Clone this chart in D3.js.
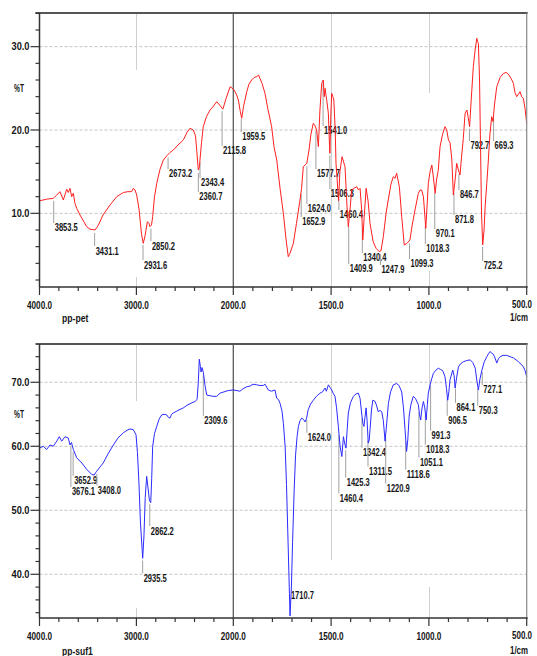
<!DOCTYPE html>
<html><head><meta charset="utf-8">
<script src="https://cdn.jsdelivr.net/npm/d3@7"></script>
<style>body{margin:0;background:#fff}</style>
</head><body><svg id="c" width="537" height="656"></svg>
<script>
// ---------- DATA ----------
const xTickValues = [4000, 3000, 2000, 1500, 1000, 500];
const petYTicks = [10, 20, 30];
const sufYTicks = [40, 50, 60, 70];

// [wavenumber (1/cm), %T]
const petSpectrum = [[4000,11.5],[3926,11.7],[3858,11.8],[3822,12.2],[3788,12.6],[3754,11.6],[3719,12.9],[3703,12.5],[3685,13.0],[3668,12.0],
[3651,12.4],[3634,11.2],[3616,10.6],[3582,9.8],[3513,8.4],[3479,8.1],[3427,8.0],[3396,8.5],[3345,9.8],[3272,11.0],
[3203,12.0],[3135,12.5],[3087,12.6],[3049,12.6],[3032,13.0],[3014,12.8],[2997,12.2],[2973,10.5],[2947,7.5],[2929,6.4],
[2911,7.3],[2887,9.0],[2870,8.8],[2860,8.4],[2844,8.6],[2832,9.6],[2813,12.0],[2790,13.6],[2756,15.3],[2722,16.4],
[2687,16.9],[2653,17.3],[2619,17.6],[2571,18.2],[2516,18.8],[2478,19.7],[2447,20.2],[2413,20.0],[2390,19.3],[2377,17.5],
[2361,15.2],[2349,15.6],[2344,16.4],[2328,18.5],[2310,20.4],[2277,21.6],[2240,22.4],[2209,22.8],[2171,23.4],[2142,23.0],
[2108,22.5],[2074,23.8],[2033,25.2],[1999,24.9],[1991,24.6],[1983,24.2],[1974,23.6],[1964,22.2],[1957,21.4],[1948,22.8],
[1931,24.6],[1920,25.5],[1906,26.0],[1894,26.3],[1880,26.4],[1871,26.6],[1864,26.2],[1853,25.6],[1838,24.4],[1823,22.5],
[1804,20.4],[1792,18.0],[1778,16.4],[1761,13.0],[1744,10.0],[1730,6.8],[1719,4.8],[1710,5.2],[1693,6.4],[1677,8.8],
[1659,11.6],[1651,13.0],[1642,15.6],[1633,15.8],[1624,16.0],[1613,17.6],[1603,19.5],[1591,20.8],[1582,20.5],[1574,20.0],
[1565,18.0],[1557,22.4],[1548,25.6],[1540,26.0],[1535,24.0],[1531,25.0],[1522,23.5],[1514,22.0],[1508,18.0],[1506,17.2],
[1501,22.0],[1497,24.4],[1491,24.0],[1486,23.6],[1479,20.0],[1475,16.0],[1470,14.4],[1462,11.5],[1455,15.0],[1444,16.8],
[1429,15.6],[1419,11.0],[1412,8.4],[1403,10.5],[1395,12.8],[1383,13.0],[1369,13.2],[1360,12.8],[1352,13.0],[1344,10.5],
[1338,6.8],[1331,9.5],[1321,13.0],[1311,11.5],[1301,8.8],[1285,6.6],[1270,5.8],[1254,5.4],[1245,5.5],[1233,7.2],
[1219,10.0],[1208,11.6],[1194,13.5],[1182,14.4],[1173,14.2],[1165,14.8],[1158,14.0],[1151,13.2],[1139,9.6],[1126,6.2],
[1112,6.4],[1097,6.8],[1086,8.5],[1071,10.4],[1054,12.4],[1045,12.8],[1037,12.8],[1028,12.0],[1016,8.2],[1009,11.0],
[1003,13.6],[994,15.0],[985,15.8],[978,14.5],[968,12.4],[961,14.0],[952,15.2],[943,18.0],[930,19.5],[918,20.4],
[909,20.0],[900,18.8],[892,18.5],[883,16.5],[875,12.2],[866,14.0],[858,16.0],[849,15.2],[841,14.6],[834,16.5],
[824,19.0],[815,22.0],[806,22.4],[799,21.5],[792,20.4],[784,23.5],[773,27.6],[764,29.5],[755,31.0],[751,30.6],
[747,30.4],[741,26.0],[736,18.0],[731,10.0],[725,6.2],[718,8.0],[712,11.0],[704,13.6],[696,16.4],[688,19.5],
[679,21.6],[672,21.0],[665,23.0],[653,25.2],[636,26.3],[619,26.8],[605,26.9],[594,26.7],[580,26.2],[568,25.6],
[560,24.5],[551,24.0],[542,24.3],[534,24.6],[526,24.0],[517,23.8],[508,22.5],[500,20.8]];

const sufSpectrum = [[4000,59.7],[3961,60.0],[3926,59.5],[3892,60.2],[3858,60.0],[3822,60.8],[3796,61.5],[3771,60.8],[3737,61.5],[3703,61.3],
[3685,60.2],[3670,60.6],[3651,59.5],[3616,58.2],[3564,57.4],[3513,56.4],[3461,55.6],[3437,55.5],[3410,56.1],[3342,57.4],
[3293,58.8],[3238,60.2],[3190,61.3],[3135,62.1],[3097,62.5],[3066,62.7],[3032,62.6],[3004,61.8],[2989,59.0],[2973,54.0],
[2958,48.0],[2935,42.5],[2922,46.0],[2909,52.0],[2894,55.3],[2880,53.5],[2865,51.5],[2852,51.2],[2842,55.0],[2832,60.0],
[2813,62.0],[2790,63.1],[2767,64.2],[2739,64.9],[2715,65.0],[2687,64.9],[2669,64.5],[2653,64.4],[2638,65.0],[2619,65.2],
[2571,65.6],[2516,66.0],[2468,66.5],[2426,66.8],[2395,67.0],[2374,67.3],[2361,70.0],[2351,73.6],[2340,72.5],[2333,71.6],
[2323,72.3],[2309,71.5],[2292,69.5],[2274,68.0],[2240,67.9],[2209,67.8],[2171,67.8],[2137,68.3],[2096,68.5],[2054,68.7],
[2000,68.8],[1981,68.7],[1966,68.6],[1950,69.0],[1931,69.3],[1915,69.4],[1899,69.7],[1880,69.6],[1864,69.5],[1847,69.5],
[1838,69.7],[1821,68.8],[1804,68.6],[1787,68.8],[1778,67.5],[1769,67.3],[1761,66.7],[1751,65.5],[1744,63.6],[1735,60.0],
[1728,54.0],[1720,45.0],[1713,37.0],[1710,33.5],[1703,38.0],[1697,45.0],[1689,53.0],[1682,58.5],[1674,61.5],[1667,63.1],
[1659,64.0],[1650,64.4],[1641,64.2],[1633,63.8],[1626,64.3],[1617,65.7],[1605,66.6],[1591,67.2],[1575,67.8],[1557,68.3],
[1544,68.5],[1531,69.1],[1524,68.6],[1514,69.6],[1506,69.2],[1497,68.8],[1488,68.2],[1480,67.8],[1472,66.0],[1463,63.1],
[1454,60.0],[1445,58.4],[1437,61.5],[1431,60.5],[1424,59.7],[1418,62.5],[1412,65.2],[1401,66.8],[1386,67.8],[1372,68.2],
[1361,68.3],[1352,67.5],[1344,65.2],[1337,63.5],[1332,63.1],[1327,64.5],[1321,66.0],[1316,64.0],[1310,60.5],[1305,61.0],
[1301,62.6],[1294,65.5],[1287,67.2],[1275,67.0],[1267,66.3],[1259,65.4],[1250,65.6],[1241,65.4],[1233,64.0],[1224,60.8],
[1216,63.5],[1207,66.7],[1196,68.5],[1182,69.6],[1165,69.8],[1153,69.5],[1139,68.5],[1130,66.0],[1122,62.6],[1114,59.2],
[1108,61.0],[1101,64.7],[1092,66.5],[1080,67.8],[1069,67.5],[1054,66.5],[1048,65.0],[1042,64.1],[1035,66.0],[1028,67.0],
[1021,66.0],[1014,64.1],[1008,66.5],[1003,68.3],[991,70.0],[977,71.4],[964,71.9],[952,72.2],[940,72.0],[929,71.8],
[923,71.3],[918,70.9],[910,69.0],[904,67.2],[898,68.5],[892,70.4],[878,71.9],[871,71.0],[866,69.1],[858,70.8],
[849,72.4],[838,72.9],[824,73.2],[806,73.4],[789,73.5],[776,73.1],[763,72.2],[756,70.5],[747,68.8],[739,70.5],
[729,71.9],[717,73.2],[704,74.0],[694,74.5],[688,74.8],[680,74.6],[671,74.4],[662,73.8],[653,73.0],[644,73.7],
[636,74.0],[621,74.2],[602,74.2],[585,74.0],[568,73.8],[554,73.5],[542,73.2],[528,72.8],[517,72.4],[508,71.8],[500,70.9]];

// [peak wavenumber, %T at which its label sits]
const petPeaks = [[3853.5,8.24],[3431.1,5.47],[2931.6,3.79],[2850.2,6.07],[2673.2,14.72],[2343.4,13.64],[2360.7,11.96],
[2115.8,17.48],[1959.5,19.16],[1541.0,19.88],[1577.7,14.72],[1506.3,12.32],[1624.0,10.52],[1652.9,8.96],[1460.4,9.80],
[1409.9,3.32],[1340.4,4.64],[1247.9,3.20],[1099.3,3.92],[1018.3,5.72],[970.1,7.52],[871.8,9.20],[846.7,12.20],
[792.7,18.08],[725.2,3.68],[669.3,18.08]];
const sufPeaks = [[3652.9,54.6],[3676.1,52.85],[3408.0,53.10],[2862.2,46.72],[2935.5,39.41],[2309.6,63.98],[1710.7,36.61],
[1624.0,61.35],[1460.4,51.86],[1425.3,54.34],[1342.4,59.0],[1311.5,56.04],[1220.9,53.4],[1118.6,55.58],[1051.1,57.45],
[1018.3,59.47],[991.3,61.65],[906.5,63.98],[864.1,66.0],[750.3,65.54],[727.1,68.8]];

// ---------- DRAWING ----------
const svg = d3.select("#c");
const X0 = 39.5, X1 = 526.7;
const x = d3.scaleLinear().domain([4000, 2000, 500]).range([X0, 233.3, X1]);
const fmt = d3.format(".1f");

// condensed bold text: drawn at natural size, then squeezed horizontally to the target width
function txt(g, px, py, s, anchor, w) {
  const t = g.append("text").attr("x", 0).attr("y", 0)
    .attr("text-anchor", anchor || "start")
    .attr("dominant-baseline", "central")
    .attr("font-family", "'Liberation Sans', Arial, sans-serif")
    .attr("font-weight", "bold").attr("font-size", 10.5)
    .attr("fill", "#151515").text(s);
  const L = w || [...s].reduce((a, c) => a + (c === "." ? 2.1 : 4.2), 0);
  const nat = t.node().getComputedTextLength() || L;
  t.attr("transform", `translate(${px},${py}) scale(${(L / nat).toFixed(4)},1)`);
  return t;
}

const panels = [
  {spec: petSpectrum, peaks: petPeaks, yTicks: petYTicks, dom: [1.16, 34.04], top: 13, bottom: 287, titleT: 25.0,
   color: "#ff1f1f", name: "pp-pet", g3000: [57, 10], g1500: null, g1000: [80, 16], nameDy: 31},
  {spec: sufSpectrum, peaks: sufPeaks, yTicks: sufYTicks, dom: [33.17, 75.98], top: 344, bottom: 618, titleT: 64.9,
   color: "#2b2bff", name: "pp-suf1", g3000: [57, 10], g1500: 216, g1000: [46, 31], nameDy: 33}
];

panels.forEach(p => {
  const g = svg.append("g");
  const y = d3.scaleLinear().domain(p.dom).range([p.bottom, p.top]);

  // horizontal dotted gridlines
  g.selectAll(null).data(p.yTicks).join("line")
    .attr("x1", X0).attr("x2", X1).attr("y1", d => y(d)).attr("y2", d => y(d))
    .attr("stroke", "#c4c4c4").attr("stroke-width", 1).attr("stroke-dasharray", "3,2");

  // vertical gridlines
  const vg = (wn, y1, y2) => g.append("line").attr("x1", Math.round(x(wn)) + 0.5).attr("x2", Math.round(x(wn)) + 0.5)
    .attr("y1", y1).attr("y2", y2).attr("stroke", "#cfcfcf").attr("stroke-width", 1);
  vg(3000, p.top, p.top + p.g3000[0]); vg(3000, p.bottom - p.g3000[1], p.bottom);
  vg(1500, p.top, p.g1500 ? p.top + p.g1500 : p.bottom);
  vg(1000, p.top, p.top + p.g1000[0]); vg(1000, p.bottom - p.g1000[1], p.bottom);
  // scale-change line at 2000
  g.append("line").attr("x1", x(2000)).attr("x2", x(2000)).attr("y1", p.top).attr("y2", p.bottom)
    .attr("stroke", "#5a5a5a").attr("stroke-width", 1.3);

  // peak marker lines and labels
  const interp = d3.scaleLinear().domain(p.spec.map(d => d[0])).range(p.spec.map(d => d[1]));
  p.peaks.forEach(([wn, lt]) => {
    const px = x(wn), cy = y(interp(wn)) + 3, ly = y(lt) - 5;
    if (ly > cy + 1) g.append("line").attr("x1", px).attr("x2", px).attr("y1", cy).attr("y2", ly)
      .attr("stroke", "#a0a0a0").attr("stroke-width", 1);
    txt(g, px + 1, y(lt), fmt(wn));
  });

  // spectrum curve
  g.append("path").datum(p.spec)
    .attr("d", d3.line().x(d => x(d[0])).y(d => y(d[1])))
    .attr("fill", "none").attr("stroke", p.color).attr("stroke-width", 1).attr("stroke-linejoin", "round");

  // frame
  g.append("line").attr("x1", X0 - 4).attr("x2", X1 + 1).attr("y1", p.top).attr("y2", p.top)
    .attr("stroke", "#555").attr("stroke-width", 1.8);
  g.append("line").attr("x1", X1).attr("x2", X1).attr("y1", p.top).attr("y2", p.bottom)
    .attr("stroke", "#888").attr("stroke-width", 1.2);
  g.append("line").attr("x1", X0).attr("x2", X0).attr("y1", p.top).attr("y2", p.bottom)
    .attr("stroke", "#333").attr("stroke-width", 1.5);
  g.append("line").attr("x1", X0).attr("x2", X1 + 1).attr("y1", p.bottom).attr("y2", p.bottom)
    .attr("stroke", "#333").attr("stroke-width", 1.5);

  // x ticks
  const minorX = d3.range(4000, 2000, -200).concat(d3.range(2000, 499, -100));
  g.selectAll(null).data(minorX).join("line")
    .attr("x1", d => x(d)).attr("x2", d => x(d)).attr("y1", p.bottom)
    .attr("y2", d => p.bottom + (xTickValues.includes(d) ? 8 : 4))
    .attr("stroke", "#333").attr("stroke-width", 1.2);
  xTickValues.forEach((v, i) => {
    const last = i === xTickValues.length - 1;
    txt(g, last ? 512 : x(v), p.bottom + 18, fmt(v), last ? "start" : "middle", last ? 20 : 25);
  });

  // y ticks
  const minorY = d3.range(Math.ceil(p.dom[0] / 2) * 2, p.dom[1], 2);
  g.selectAll(null).data(minorY).join("line")
    .attr("x1", X0).attr("x2", d => X0 - (p.yTicks.includes(d) ? 9 : 4))
    .attr("y1", d => y(d)).attr("y2", d => y(d))
    .attr("stroke", "#333").attr("stroke-width", 1.2);
  p.yTicks.forEach(v => txt(g, X0 - 10, y(v), fmt(v), "end", 18));

  // axis titles
  txt(g, 19, y(p.titleT), "%T", "middle", 10);
  txt(g, 62, p.bottom + p.nameDy, p.name, "start", p.name.length * 4.4);
  txt(g, 519, p.bottom + p.nameDy, "1/cm", "middle", 18);
});
</script>
</body></html>
